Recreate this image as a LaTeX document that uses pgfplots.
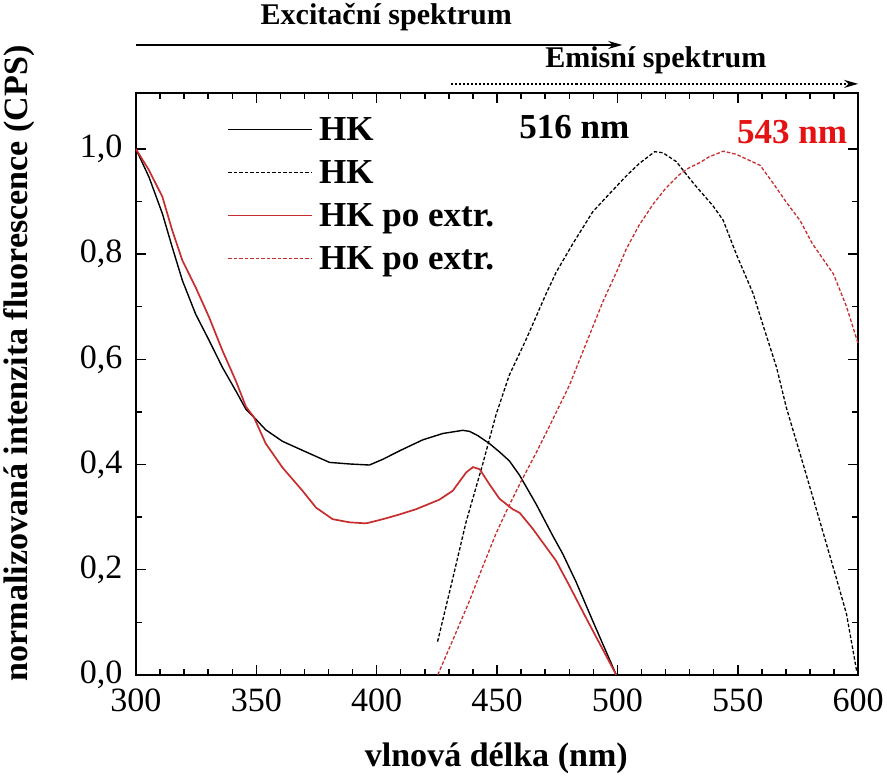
\documentclass[border=0pt]{standalone}
\usepackage{fontspec}
\setmainfont{Liberation Serif}
\usepackage{pgfplots}
\pgfplotsset{compat=1.18}
\usetikzlibrary{arrows.meta}
\definecolor{myred}{RGB}{200,45,45}
\definecolor{txtred}{RGB}{228,18,18}

\pgfplotstableread{
x y
300 1.0
305.4 0.947
311 0.877
315.1 0.813
319.3 0.75
324.8 0.686
330.4 0.636
335.9 0.585
341.5 0.54
345.7 0.505
349 0.49
353.9 0.466
360.9 0.444
370.6 0.424
380.4 0.404
388.7 0.401
397 0.399
402.6 0.41
409.5 0.426
419.2 0.447
427.5 0.459
435.8 0.465
438.6 0.463
442 0.455
446.8 0.440
451 0.424
455.1 0.407
459.3 0.38
466.2 0.325
473.2 0.264
477.3 0.23
482.9 0.176
489.8 0.102
499.5 0
}\hkex

\pgfplotstableread{
x y
300 1.0
305.4 0.96
311 0.909
315.1 0.845
319.3 0.788
324.8 0.737
330.4 0.68
335.9 0.617
341.5 0.559
345.7 0.51
349 0.49
353.9 0.44
360.9 0.394
369.2 0.35
374.8 0.318
381.7 0.296
388.7 0.29
395.6 0.288
402.6 0.296
409.5 0.305
416.4 0.315
426 0.333
431.6 0.35
437.2 0.385
440 0.395
442.8 0.391
446.9 0.362
451 0.335
456.5 0.315
459.4 0.308
464.8 0.278
474.5 0.217
480 0.17
487 0.108
499.5 0
}\hkpoex

\pgfplotstableread{
x y
425.3 0.063
431.6 0.183
437.1 0.29
444 0.4
449.6 0.495
455.1 0.57
462 0.637
470.4 0.725
474.6 0.766
481.5 0.82
489.8 0.881
496.7 0.915
503.7 0.949
509.2 0.973
515.5 0.995
518.9 0.993
524.5 0.976
531.4 0.936
539.7 0.892
543.9 0.865
549.4 0.80
556.4 0.725
560.5 0.665
566.1 0.585
570.2 0.508
577.2 0.4
584.1 0.292
591 0.183
595.2 0.115
599.4 0.007
}\hkem

\pgfplotstableread{
x y
425.4 0
432 0.07
438.5 0.14
444 0.205
449.7 0.27
455 0.322
460 0.368
466 0.42
472 0.475
480 0.55
487 0.63
494 0.71
500 0.77
503.7 0.81
509 0.855
514.8 0.895
520 0.925
525.9 0.952
530 0.965
534.2 0.974
538 0.985
544 0.996
549.4 0.99
559.3 0.969
564.7 0.935
570 0.9
575.9 0.864
581 0.82
589.8 0.762
595.2 0.70
600 0.63
}\hkpoem

\begin{document}
\begin{tikzpicture}
\begin{axis}[
  scale only axis, width=721pt, height=581pt,
  xmin=300, xmax=600, ymin=0, ymax=1.107,
  axis lines=box,
  xtick={300,350,400,450,500,550,600},
  ytick={0,0.2,0.4,0.6,0.8,1.0},
  minor x tick num=4, minor y tick num=1,
  tick align=inside,
  major tick length=10pt, minor tick length=6pt,
  axis line style={black, line width=2pt},
  major tick style={line width=1.6pt, black},
  minor tick style={line width=1.4pt, black},
  tick label style={font=\fontsize{34}{36}\selectfont},
  /pgf/number format/assume math mode=true,
  y tick label style={/pgf/number format/fixed, /pgf/number format/fixed zerofill,
    /pgf/number format/precision=1, /pgf/number format/use comma},
  xticklabel shift=11pt,
  yticklabel shift=10pt,
  xlabel={vlnová délka (nm)},
  ylabel={normalizovaná intenzita fluorescence (CPS)},
  label style={font=\fontsize{34}{36}\selectfont\bfseries},
  xlabel style={at={(axis description cs:0.499,-0.143)}, anchor=center},
  ylabel style={at={(axis description cs:-0.162,0.535)}, anchor=center},
  clip=false,
  legend style={draw=none, fill=none, at={(axis cs:337.9,1.062)}, anchor=north west,
    inner sep=0pt, outer sep=0pt, column sep=6pt, row sep=11pt,
    font=\fontsize{35}{40}\selectfont\bfseries,
    nodes={inner sep=0pt, text height=24pt, text depth=8pt, anchor=base west}},
  legend cell align=left,
  legend image code/.code={\draw[#1] (0pt,11pt) -- (84pt,11pt);},
]
\addplot[black, line width=1.4pt] table[x=x,y=y]{\hkex};
\addlegendentry{HK}
\addplot[black, line width=1.3pt, dash pattern=on 3.5pt off 2pt] table[x=x,y=y]{\hkem};
\addlegendentry{HK}
\addplot[myred, line width=1.7pt] table[x=x,y=y]{\hkpoex};
\addlegendentry{HK po extr.}
\addplot[myred, line width=1.3pt, dash pattern=on 3.5pt off 2pt] table[x=x,y=y]{\hkpoem};
\addlegendentry{HK po extr.}

\node[font=\fontsize{35}{40}\selectfont\bfseries, black] at (axis cs:482.1,1.042) {516 nm};
\node[font=\fontsize{35}{40}\selectfont\bfseries, txtred] at (axis cs:572.6,1.032) {543 nm};

\node[font=\fontsize{30}{34}\selectfont\bfseries] at (axis cs:404,1.251) {Excitační spektrum};
\node[font=\fontsize{30}{34}\selectfont\bfseries] at (axis cs:516,1.168) {Emisní spektrum};
\draw[line width=1.5pt, -{Stealth[length=14pt,width=8pt]}] (axis cs:300,1.198) -- (axis cs:502,1.198);
\draw[line width=1.5pt, dash pattern=on 2pt off 2pt, -{Stealth[length=14pt,width=8pt]}] (axis cs:431,1.124) -- (axis cs:600,1.124);
\end{axis}
\end{tikzpicture}
\end{document}
